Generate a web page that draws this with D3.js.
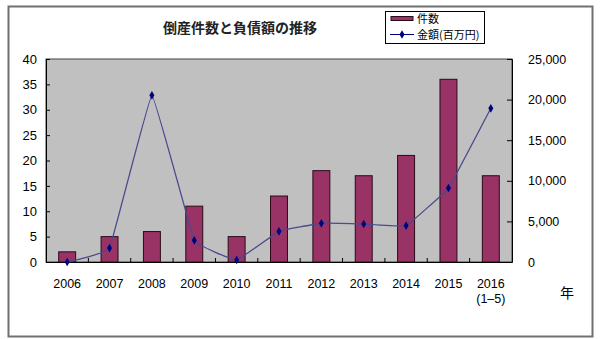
<!DOCTYPE html>
<html><head><meta charset="utf-8">
<script src="https://cdn.jsdelivr.net/npm/d3@7"></script>
<style>
html,body{margin:0;padding:0;background:#fff;}
svg{display:block;}
text{font-family:"Liberation Sans",Arial,"Noto Sans CJK JP",sans-serif;}
.jp{font-family:"Noto Sans CJK JP",sans-serif;}
</style></head>
<body>
<svg id="c" width="600" height="339"></svg>
<script>
const years = ["2006","2007","2008","2009","2010","2011","2012","2013","2014","2015","2016"];
const yearSub = ["","","","","","","","","","","(1\u20135)"];
const counts = [2, 5, 6, 11, 5, 13, 18, 17, 21, 36, 17];
const amounts = [0, 1720, 20530, 2670, 250, 3780, 4770, 4680, 4470, 9110, 18930];
const leftTicks = [0,5,10,15,20,25,30,35,40];
const rightTicks = [0,5000,10000,15000,20000,25000];

const svg = d3.select("#c");
// outer frame
svg.append("rect").attr("x",8.5).attr("y",6.5).attr("width",584).attr("height",330)
  .attr("fill","#fff").attr("stroke","#707070").attr("stroke-width",2);

const L=46, R=512, T=59, B=262;
const x = d3.scaleBand().domain(years).range([L,R]);
const yL = d3.scaleLinear().domain([0,40]).range([B,T]);
const yR = d3.scaleLinear().domain([0,25000]).range([B,T]);

svg.append("rect").attr("x",L).attr("y",T).attr("width",R-L).attr("height",B-T)
  .attr("fill","#c0c0c0").attr("stroke","#404040").attr("stroke-width",1);

// bars
const bw = x.bandwidth()*0.4;
svg.append("g").selectAll("rect").data(counts).join("rect")
  .attr("x",(d,i)=>x(years[i])+x.bandwidth()/2-bw/2)
  .attr("y",d=>yL(d)).attr("width",bw).attr("height",d=>B-yL(d))
  .attr("fill","#993366").attr("stroke","#2a0a18").attr("stroke-width",1);

// axes
const gl = svg.append("g").attr("transform",`translate(${L},0)`)
  .call(d3.axisLeft(yL).tickValues(leftTicks).tickSize(-4).tickPadding(9));
gl.select(".domain").attr("stroke","#000");
gl.selectAll("line").attr("stroke","#000");
gl.selectAll("text").attr("font-size",13).attr("fill","#000");

const gr = svg.append("g").attr("transform",`translate(${R},0)`)
  .call(d3.axisRight(yR).tickValues(rightTicks).tickSize(-5).tickPadding(16).tickFormat(d3.format(",")));
gr.select(".domain").attr("stroke","#000");
gr.selectAll("line").attr("stroke","#000");
gr.selectAll("text").attr("font-size",12.5).attr("fill","#000");

// x axis line and ticks between categories
svg.append("line").attr("x1",L).attr("x2",R).attr("y1",B+0.5).attr("y2",B+0.5).attr("stroke","#000");
svg.append("g").selectAll("line").data(years.slice(1)).join("line")
  .attr("x1",d=>x(d)).attr("x2",d=>x(d)).attr("y1",B-4).attr("y2",B).attr("stroke","#000");
svg.append("g").selectAll("text").data(years).join("text")
  .attr("x",d=>x(d)+x.bandwidth()/2).attr("y",288).attr("text-anchor","middle")
  .attr("font-size",12.5).attr("fill","#000").text(d=>d);
svg.append("g").selectAll("text").data(yearSub).join("text")
  .attr("x",(d,i)=>x(years[i])+x.bandwidth()/2).attr("y",303).attr("text-anchor","middle")
  .attr("font-size",12.5).attr("fill","#000").text(d=>d);
svg.append("text").attr("class","jp").attr("x",567).attr("y",298).attr("text-anchor","middle")
  .attr("font-size",14).text("年");

// line
const line = d3.line().x((d,i)=>x(years[i])+x.bandwidth()/2).y(d=>yR(d)).curve(d3.curveCardinal.tension(0.8));
svg.append("path").datum(amounts).attr("d",line).attr("fill","none")
  .attr("stroke","#4a4a8e").attr("stroke-width",1.3);
const diamond = d3.symbol().type(d3.symbolDiamond).size(22);
svg.append("g").selectAll("path").data(amounts).join("path")
  .attr("d",diamond)
  .attr("transform",(d,i)=>`translate(${x(years[i])+x.bandwidth()/2},${yR(d)})`)
  .attr("fill","#000080");

// title
svg.append("text").attr("class","jp").attr("x",240).attr("y",33).attr("text-anchor","middle")
  .attr("font-size",14).attr("font-weight","bold").attr("fill","#222").text("倒産件数と負債額の推移");

// legend
const lg = svg.append("g");
lg.append("rect").attr("x",385.5).attr("y",11.5).attr("width",99).attr("height",32)
  .attr("fill","#fff").attr("stroke","#000");
lg.append("rect").attr("x",391).attr("y",16.5).attr("width",22).attr("height",4)
  .attr("fill","#993366").attr("stroke","#2a0a18");
lg.append("text").attr("class","jp").attr("x",417).attr("y",23).attr("font-size",11).text("件数");
lg.append("line").attr("x1",390).attr("x2",414).attr("y1",34.5).attr("y2",34.5).attr("stroke","#000080");
lg.append("path").attr("d",diamond).attr("transform","translate(402,34.5)").attr("fill","#000080");
lg.append("text").attr("class","jp").attr("x",417).attr("y",39).attr("font-size",11).text("金額(百万円)");
</script>
</body></html>
